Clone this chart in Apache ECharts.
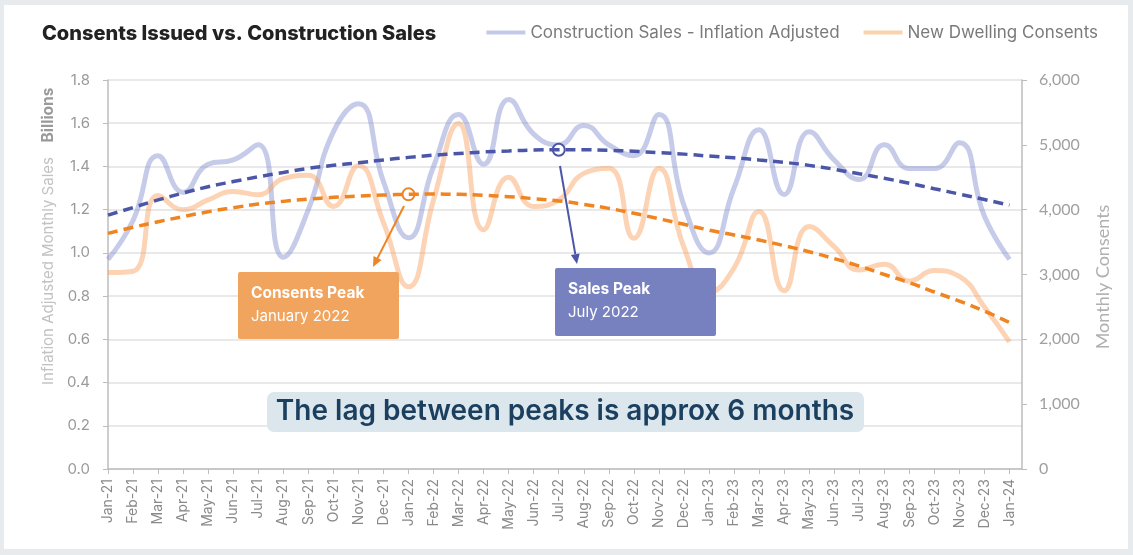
<!DOCTYPE html>
<html>
<head>
<meta charset="utf-8">
<title>Consents Issued vs. Construction Sales</title>
<script src="https://cdn.jsdelivr.net/npm/echarts@6/dist/echarts.min.js"></script>
<style>
  html, body { margin: 0; padding: 0; background: #e8ebee; }
  #chart { position: absolute; left: 4px; top: 5px; width: 1124px; height: 544px; background: #fff; }
</style>
</head>
<body>
<div id="chart"></div>
<script>
// month labels along the bottom
const months = [
  'Jan-21', 'Feb-21', 'Mar-21', 'Apr-21', 'May-21', 'Jun-21', 'Jul-21', 'Aug-21', 'Sep-21', 'Oct-21', 'Nov-21', 'Dec-21',
  'Jan-22', 'Feb-22', 'Mar-22', 'Apr-22', 'May-22', 'Jun-22', 'Jul-22', 'Aug-22', 'Sep-22', 'Oct-22', 'Nov-22', 'Dec-22',
  'Jan-23', 'Feb-23', 'Mar-23', 'Apr-23', 'May-23', 'Jun-23', 'Jul-23', 'Aug-23', 'Sep-23', 'Oct-23', 'Nov-23', 'Dec-23',
  'Jan-24'
];

// construction sales, inflation adjusted (billions, left axis)
const sales = [
  0.97, 1.15, 1.45, 1.28, 1.41, 1.43, 1.50, 0.98, 1.20, 1.56, 1.69, 1.33,
  1.07, 1.40, 1.64, 1.41, 1.71, 1.55, 1.50, 1.59, 1.50, 1.45, 1.64, 1.22,
  1.00, 1.30, 1.57, 1.27, 1.56, 1.43, 1.34, 1.50, 1.39, 1.39, 1.51, 1.17,
  0.97
];

// new dwelling consents (count, right axis)
const consents = [
  3030, 3050, 4220, 4000, 4150, 4280, 4230, 4480, 4530, 4050, 4680, 3800,
  2810, 4150, 5330, 3690, 4500, 4050, 4150, 4560, 4640, 3560, 4640, 3420,
  2730, 3100, 3970, 2750, 3740, 3430, 3070, 3160, 2900, 3060, 2970, 2500,
  1960
];

// trend lines
const salesTrend = [
  1.175, 1.210, 1.245, 1.277, 1.306, 1.330, 1.352, 1.372, 1.391, 1.405, 1.417, 1.430,
  1.442, 1.452, 1.460, 1.467, 1.472, 1.476, 1.477, 1.477, 1.475, 1.470, 1.464, 1.457,
  1.448, 1.440, 1.430, 1.419, 1.405, 1.387, 1.366, 1.345, 1.322, 1.297, 1.272, 1.247,
  1.221
];
const consentsTrend = [
  3634, 3728, 3814, 3893, 3968, 4030, 4086, 4128, 4163, 4190, 4210, 4226,
  4236, 4240, 4236, 4222, 4200, 4170, 4135, 4082, 4020, 3945, 3860, 3775,
  3685, 3610, 3531, 3445, 3351, 3245, 3130, 3000, 2875, 2730, 2590, 2435,
  2260
];

const consentsPeak = 12; // Jan-22
const salesPeak = 18;    // Jul-22

const font = 'Inter, "Noto Sans", sans-serif';

function pairs(arr) {
  return arr.map((v, i) => [i, v]);
}

// little arrow: shaft plus triangular head
function arrow(x1, y1, x2, y2, color) {
  const dx = x2 - x1, dy = y2 - y1;
  const len = Math.sqrt(dx * dx + dy * dy);
  const ux = dx / len, uy = dy / len;
  const bx = x2 - ux * 10, by = y2 - uy * 10;
  const px = -uy * 4.5, py = ux * 4.5;
  return [
    { type: 'line', shape: { x1, y1, x2: bx, y2: by }, style: { stroke: color, lineWidth: 2 }, z: 100 },
    { type: 'polygon', shape: { points: [[x2, y2], [bx + px, by + py], [bx - px, by - py]] }, style: { fill: color }, z: 100 }
  ];
}

function peakBox(x, y, w, h, fill, head, sub) {
  return [
    { type: 'rect', shape: { x, y, width: w, height: h, r: 2 }, style: { fill }, z: 100 },
    { type: 'text', x: x + 13, y: y + 13, style: { text: head, fill: '#fff', font: '700 15.5px ' + font }, z: 101 },
    { type: 'text', x: x + 13, y: y + 37, style: { text: sub, fill: '#fff', font: '400 15px ' + font }, z: 101 }
  ];
}

const chart = echarts.init(document.getElementById('chart'));

// chart div is offset by (4,5) inside the page
const ox = -4, oy = -5;

chart.setOption({
  animation: false,
  title: {
    text: 'Consents Issued vs. Construction Sales',
    left: 42 + ox,
    top: 19,
    padding: 0,
    textStyle: { fontFamily: font, fontSize: 20, fontWeight: 800, color: '#222' }
  },
  legend: {
    right: 30,
    top: 19,
    padding: 0,
    icon: 'rect',
    itemWidth: 39,
    itemHeight: 4,
    itemGap: 24,
    textStyle: { fontFamily: font, fontSize: 17, color: '#7a7a7a' },
    data: [
      { name: 'Construction Sales - Inflation Adjusted', itemStyle: { color: '#c3c9e8' } },
      { name: 'New Dwelling Consents', itemStyle: { color: '#fcd2ae' } }
    ]
  },
  grid: { left: 108 + ox, right: 111 - 5, top: 80 + oy, bottom: 86 - 6 },
  xAxis: {
    type: 'value',
    min: 0,
    max: 36.5,
    interval: 1,
    axisLine: { show: true, lineStyle: { color: '#bdbdbd', width: 1.5 } },
    axisTick: { show: true, length: 5, lineStyle: { color: '#bdbdbd' } },
    splitLine: { show: false },
    axisLabel: {
      rotate: 90,
      margin: 10,
      showMaxLabel: false,
      fontFamily: font,
      fontSize: 14,
      color: '#8a8a8a',
      formatter: v => months[v] || ''
    }
  },
  yAxis: [
    {
      type: 'value',
      min: 0,
      max: 1.8,
      interval: 0.2,
      axisLine: { show: true, lineStyle: { color: '#bdbdbd', width: 1.5 } },
      axisTick: { show: true, length: 5, lineStyle: { color: '#bdbdbd' } },
      splitLine: { lineStyle: { color: '#e2e2e2', width: 1.5 } },
      axisLabel: {
        margin: 18,
        fontFamily: font,
        fontSize: 15,
        color: '#9a9a9a',
        formatter: v => v.toFixed(1)
      }
    },
    {
      type: 'value',
      min: 0,
      max: 6000,
      interval: 1000,
      position: 'right',
      axisLine: { show: true, lineStyle: { color: '#bdbdbd', width: 1.5 } },
      axisTick: { show: true, length: 5, lineStyle: { color: '#bdbdbd' } },
      splitLine: { show: false },
      axisLabel: {
        margin: 17,
        fontFamily: 'Lato, "Open Sans", sans-serif',
        fontSize: 16,
        color: '#a0a0a0',
        formatter: v => v.toLocaleString('en-US')
      }
    }
  ],
  series: [
    {
      name: 'Construction Sales - Inflation Adjusted',
      type: 'line',
      smooth: true,
      showSymbol: false,
      data: pairs(sales),
      lineStyle: { color: 'rgba(126,140,204,0.45)', width: 5 },
      itemStyle: { color: '#c3c9e8' },
      z: 2
    },
    {
      name: 'New Dwelling Consents',
      type: 'line',
      yAxisIndex: 1,
      smooth: true,
      showSymbol: false,
      data: pairs(consents),
      lineStyle: { color: 'rgba(248,160,90,0.45)', width: 5 },
      itemStyle: { color: '#fcd2ae' },
      z: 2
    },
    {
      name: 'Sales trend',
      type: 'line',
      smooth: true,
      showSymbol: false,
      data: pairs(salesTrend),
      lineStyle: { color: '#4b56a8', width: 3.5, type: [10, 6] },
      markPoint: {
        symbol: 'circle',
        symbolSize: 12,
        itemStyle: { color: '#fff', borderColor: '#4b56a8', borderWidth: 2 },
        label: { show: false },
        data: [{ coord: [salesPeak, salesTrend[salesPeak]] }]
      },
      z: 5
    },
    {
      name: 'Consents trend',
      type: 'line',
      yAxisIndex: 1,
      smooth: true,
      showSymbol: false,
      data: pairs(consentsTrend),
      lineStyle: { color: '#ef8420', width: 3.5, type: [10, 6] },
      markPoint: {
        symbol: 'circle',
        symbolSize: 12,
        itemStyle: { color: '#fff', borderColor: '#ef8420', borderWidth: 2 },
        label: { show: false },
        data: [{ coord: [consentsPeak, consentsTrend[consentsPeak]] }]
      },
      z: 5
    }
  ],
  graphic: [
    // axis names
    {
      type: 'text', x: 48 + ox, y: 271 + oy, rotation: Math.PI / 2,
      style: { text: 'Inflation Adjusted Monthly Sales', fill: '#c2c2c2', font: '400 15px ' + font, align: 'center', verticalAlign: 'middle' }
    },
    {
      type: 'text', x: 48 + ox, y: 115 + oy, rotation: Math.PI / 2,
      style: { text: 'Billions', fill: '#9a9a9a', font: '700 15.5px ' + font, align: 'center', verticalAlign: 'middle' }
    },
    {
      type: 'text', x: 1103 + ox, y: 277 + oy, rotation: Math.PI / 2,
      style: { text: 'Monthly Consents', fill: '#b0b0b0', font: '400 18px Lato, "Open Sans", sans-serif', align: 'center', verticalAlign: 'middle' }
    },
    // annotations
    ...arrow(404 + ox, 206 + oy, 373 + ox, 267 + oy, '#ef8420'),
    ...arrow(560 + ox, 166 + oy, 577 + ox, 264 + oy, '#4b56a8'),
    ...peakBox(238 + ox, 272 + oy, 161, 67, '#f0a45d', 'Consents Peak', 'January 2022'),
    ...peakBox(555 + ox, 268 + oy, 161, 68, '#7781c0', 'Sales Peak', 'July 2022'),
    {
      type: 'rect', shape: { x: 267 + ox, y: 392 + oy, width: 597, height: 40, r: 7 },
      style: { fill: '#dbe6ed' }, z: 100
    },
    {
      type: 'text', x: 565 + ox, y: 412 + oy,
      style: { text: 'The lag between peaks is approx 6 months', fill: '#1b3f5e', font: '600 28px ' + font, align: 'center', verticalAlign: 'middle' },
      z: 101
    }
  ]
});
</script>
</body>
</html>
